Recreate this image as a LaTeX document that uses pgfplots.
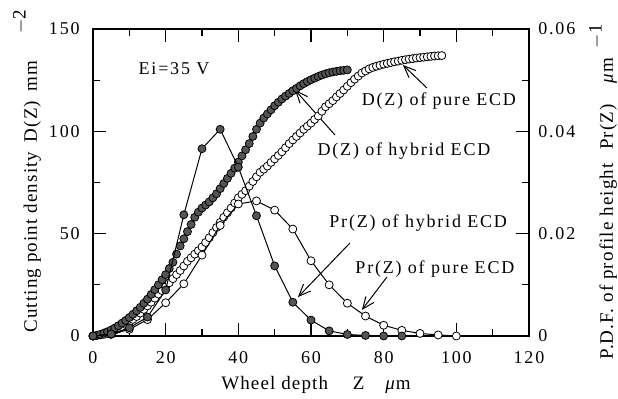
\documentclass[border=0pt]{standalone}
\usepackage{pgfplots}
\pgfplotsset{compat=1.18}
\usepackage{pgfplotstable}
\usepackage{fontspec}
\setmainfont{Liberation Serif}[LetterSpace=10]
\newfontfamily\labelfont{Liberation Serif}[LetterSpace=6]
\usetikzlibrary{arrows.meta}

\pgfplotstableread{
z d
0 0
1 0.3
2 0.8
3 1.4
4 2.1
5 2.9
6 3.9
7 5
8 6.3
9 7.6
10 9
11 10.6
12 12.3
13 14
14 16
15 18
16 20.3
17 22.6
18 25
19 27.5
20 30
21 33
22 36
23 40
24 44
25 47.5
26 51
27 54.5
28 58
29 60.5
30 62.5
31 64
32 65.5
33 67.5
34 69.5
35 72
36 74.5
37 77
38 79.5
39 82
40 85
41 88
42 91
43 94
44 97.5
45 101
46 104
47 106.5
48 108.5
49 110.5
50 112.5
51 114.2
52 115.8
53 117.2
54 118.5
55 119.8
56 121
57 122.2
58 123.3
59 124.3
60 125.2
61 126
62 126.8
63 127.5
64 128.1
65 128.6
66 129
67 129.3
68 129.6
69 129.8
70 130
}\Dhybrid

\pgfplotstableread{
z d
0 0
1 0.2
2 0.5
3 0.8
4 1.2
5 1.9
6 2.8
7 3.6
8 4.5
9 5.6
10 6.8
11 8.1
12 9.5
13 11.2
14 13
15 14.7
16 16.5
17 18.5
18 20.5
19 22.2
20 24
21 26
22 28
23 30
24 32
25 34.2
26 36.5
27 38.2
28 40
29 41.7
30 43.5
31 45.7
32 48
33 50.5
34 53
35 55.5
36 58
37 60.2
38 62.5
39 65
40 67.5
41 69.2
42 71
43 73.2
44 75.5
45 77.8
46 80
47 81.5
48 83
49 84.8
50 86.5
51 88.2
52 90
53 92
54 94
55 95.8
56 97.5
57 99.2
58 101
59 102.5
60 104
61 105.8
62 107.5
63 109.8
64 112
65 113.5
66 115
67 116.8
68 118.5
69 120.2
70 122
71 123.8
72 125.5
73 127
74 128.5
75 129.5
76 130.5
77 131.2
78 131.8
79 132.3
80 132.8
81 133.2
82 133.6
83 134
84 134.3
85 134.7
86 135
87 135.3
88 135.5
89 135.8
90 136
91 136.2
92 136.4
93 136.6
94 136.8
95 136.9
96 137
}\Dpure

\pgfplotstableread{
z p
0 0
5 0.0004
10 0.0016
15 0.0037
20 0.0090
25 0.0237
30 0.0366
35 0.0404
40 0.0330
45 0.0235
50 0.0137
55 0.0066
60 0.0031
65 0.0010
70 0.0003
75 0.0001
80 0
85 0
}\Phybrid

\pgfplotstableread{
z p
0 0
5 0.0003
10 0.0013
15 0.0032
20 0.0065
25 0.0102
30 0.0158
35 0.0216
40 0.0258
45 0.0264
50 0.0246
55 0.0209
60 0.0147
65 0.0100
70 0.0064
75 0.0039
80 0.0021
85 0.0011
90 0.0005
95 0.0002
100 0
}\Ppure

\definecolor{darkfill}{RGB}{85,85,85}

\begin{document}
\fontsize{9}{10.8}\selectfont
\begin{tikzpicture}
\pgfplotsset{
  every axis/.append style={
    font=\fontsize{9}{10.8}\selectfont,
    scale only axis, width=218pt, height=153.5pt,
    at={(0,0)}, anchor=south west,
    xmin=0, xmax=120,
    tick align=inside,
    major tick length=6.5pt, minor tick length=3.5pt,
    axis line style={line width=0.8pt},
    every tick/.style={black, line width=0.6pt},
    /pgf/number format/assume math mode=true,
  }
}
\begin{axis}[
  ymin=0, ymax=150,
  xtick={0,20,...,120}, minor x tick num=1,
  ytick={0,50,100,150}, minor y tick num=1,
  ytick pos=left,
  xticklabel style={yshift=-4.5pt},
  yticklabel style={xshift=-3.5pt},
  clip=false,
]
\addplot[only marks, mark=*, mark size=2pt, mark options={fill=white, draw=black, line width=0.4pt}] table[x=z,y=d] {\Dpure};
\addplot[only marks, mark=*, mark size=2pt, mark options={fill=darkfill, draw=black, line width=0.4pt}] table[x=z,y=d] {\Dhybrid};

\node at (axis cs:22.3,130.4) {Ei=35 V};
\node at (axis cs:95.2,114.8) {D(Z) of pure ECD};
\node at (axis cs:85.6,90.4) {D(Z) of hybrid ECD};
\node at (axis cs:89.5,55.2) {Pr(Z) of hybrid ECD};
\node at (axis cs:94.1,32.7) {Pr(Z) of pure ECD};

\draw[line width=0.5pt, -{Straight Barb[length=6pt,width=5pt]}] (axis cs:66.6,98.2) -- (axis cs:55.6,120.2);
\draw[line width=0.5pt, -{Straight Barb[length=6pt,width=5pt]}] (axis cs:91.9,121.2) -- (axis cs:85.3,132.4);
\draw[line width=0.5pt, -{Straight Barb[length=6pt,width=5pt]}] (axis cs:70.7,45.4) -- (axis cs:56.4,19);
\draw[line width=0.5pt, -{Straight Barb[length=6pt,width=5pt]}] (axis cs:80.9,28.8) -- (axis cs:74,12.7);

\node[rotate=90, anchor=west, inner sep=0pt, font=\labelfont\fontsize{9.5}{11}\selectfont] at ([xshift=-33pt, yshift=1.5pt]rel axis cs:0,0) {Cutting point density\hspace{0.5em}D(Z)\hspace{0.5em}mm\hspace{1.4em}\raisebox{0.6em}{$-$2}};
\node[font=\labelfont\fontsize{9.5}{11}\selectfont] at ([yshift=-24.5pt, xshift=2.5pt]rel axis cs:0.5,0) {Wheel depth\hspace{1.3em}Z\hspace{1.1em}\textit{μ}m};
\node[rotate=90, anchor=west, inner sep=0pt, font=\labelfont\fontsize{9.5}{11}\selectfont] at ([xshift=37pt, yshift=-12pt]rel axis cs:1,0) {P.D.F. of profile height\hspace{0.7em}Pr(Z)\hspace{1.1em}\textit{μ}m\hspace{0.5em}\raisebox{0.6em}{$-$1}};
\end{axis}

\begin{axis}[
  ymin=0, ymax=0.06,
  hide x axis,
  axis y line*=right,
  scaled y ticks=false,
  ytick={0,0.02,0.04,0.06},
  yticklabels={0,0.02,0.04,0.06},
  minor ytick={0.01,0.03,0.05},
  yticklabel style={xshift=1.5pt},
]
\addplot[black, line width=0.5pt, mark=*, mark size=2pt, mark options={fill=white, draw=black, line width=0.4pt}] table[x=z,y=p] {\Ppure};
\addplot[black, line width=0.5pt, mark=*, mark size=2pt, mark options={fill=darkfill, draw=black, line width=0.4pt}] table[x=z,y=p] {\Phybrid};
\end{axis}

\pgfresetboundingbox
\path[use as bounding box] (-46.5pt,-31.5pt) rectangle (262.5pt,168pt);
\end{tikzpicture}
\end{document}
